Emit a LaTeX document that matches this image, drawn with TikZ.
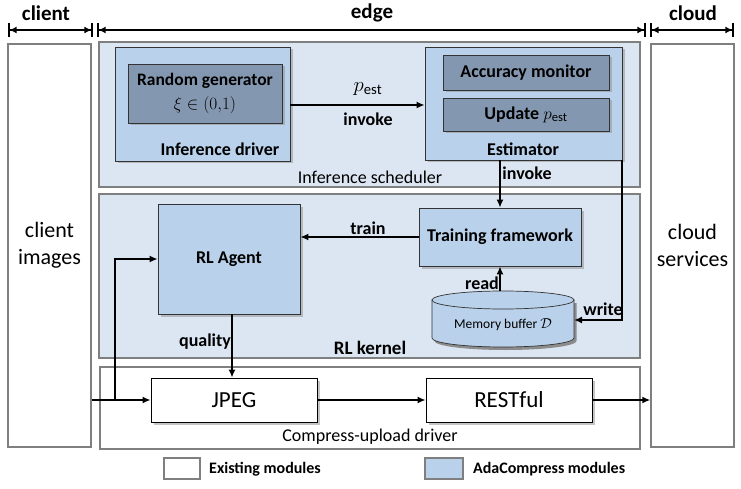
\documentclass[tikz,border=0pt]{standalone}
\usepackage{fontspec}
\setmainfont{Carlito}
\usetikzlibrary{arrows.meta,shadows}
\definecolor{regfill}{HTML}{DCE6F2}
\definecolor{modfill}{HTML}{B9D1EA}
\definecolor{darkfill}{HTML}{8497B0}
\definecolor{regdraw}{HTML}{7F7F7F}
\newcommand{\fsz}[1]{\fontsize{#1}{#1}\selectfont}
\begin{document}
\begin{tikzpicture}[x=1pt,y=-1pt,
  region/.style={draw=regdraw,line width=1.3pt,fill=regfill,inner sep=0},
  modbox/.style={draw=black!80,line width=0.7pt,fill=modfill,inner sep=0,drop shadow={shadow xshift=2.5pt,shadow yshift=-2.5pt,fill=black!45}},
  darkbox/.style={draw=black!80,line width=0.7pt,fill=darkfill,inner sep=0,drop shadow={shadow xshift=2.5pt,shadow yshift=-2.5pt,fill=black!45},font=\fsz{18}\bfseries},
  plainbox/.style={draw=black,line width=0.8pt,fill=white,inner sep=0,drop shadow={shadow xshift=2.5pt,shadow yshift=-2.5pt,fill=black!45},font=\fsz{23}},
  colbox/.style={draw=regdraw,line width=1.3pt,fill=white,inner sep=0},
  arr/.style={line width=1.6pt,-{Latex[length=8pt,width=7pt]}},
  lbl/.style={font=\fsz{18}\bfseries,inner sep=0},
  span/.style={line width=1.6pt,{Bar[width=14pt]Latex[length=7pt,width=7pt]}-{Latex[length=7pt,width=7pt]Bar[width=14pt]}}
]
\useasboundingbox (0,0) rectangle (741,489);
% top spans
\coordinate (c1) at (8,30); \coordinate (c2) at (93,30);
\coordinate (e1) at (97,30); \coordinate (e2) at (646,30);
\coordinate (d1) at (650,30); \coordinate (d2) at (734,30);
\draw[span] (c1) -- (c2);
\draw[span] (e1) -- (e2);
\draw[span] (d1) -- (d2);
\node[font=\fsz{21}\bfseries] (tclient) at (46,13) {client};
\node[font=\fsz{21}\bfseries] (tedge) at (372,13) {edge};
\node[font=\fsz{21}\bfseries] (tcloud) at (693,13) {cloud};
% side columns
\node[colbox,minimum width=83,minimum height=403] (client) at (49.5,245.5) {};
\node[font=\fsz{22},align=center] at (client) {client\\[5pt]images};
\node[colbox,minimum width=83,minimum height=403] (cloud) at (692.5,245.5) {};
\node[font=\fsz{22},align=center] at (cloud) {cloud\\[5pt]services};
% inference scheduler
\node[region,minimum width=541,minimum height=145] (sched) at (369.5,114.5) {};
\node[font=\fsz{18},inner sep=0] at (370,177) {Inference scheduler};
\node[modbox,minimum width=175,minimum height=114] (infdrv) at (202.5,104) {};
\node[lbl] at (220,149) {Inference driver};
\node[darkbox,minimum width=154,minimum height=59,align=center,font=\fontsize{17.5}{24}\selectfont\bfseries] (randgen) at (205,93.5) {Random generator\\\mdseries$\xi\in(0{,}1)$};
\node[modbox,minimum width=197,minimum height=113] (estim) at (523.5,103.5) {};
\node[lbl] at (523,149) {Estimator};
\node[darkbox,minimum width=166,minimum height=35] (accmon) at (526,72.5) {Accuracy monitor};
\node[darkbox,minimum width=166,minimum height=33] (update) at (526,114.5) {Update \mdseries$p_{\mathrm{est}}$};
\draw[arr] (infdrv.east |- 0,105) -- (estim.west |- 0,105);
\node[font=\fsz{21},inner sep=0] at (368,89) {$p_{\mathrm{est}}$};
\node[lbl] at (368,119) {invoke};
% RL kernel
\node[region,minimum width=541,minimum height=164] (rlk) at (369.5,276) {};
\node[font=\fsz{19}\bfseries,inner sep=0] at (370,348) {RL kernel};
\node[modbox,minimum width=142,minimum height=110,font=\fsz{18}\bfseries] (agent) at (229,259) {RL Agent};
\node[modbox,minimum width=162,minimum height=58,font=\fsz{18}\bfseries] (train) at (500,237) {Training framework};
% cylinder
\fill[black!45] (434.5,303) -- (434.5,341) arc[start angle=180,end angle=0,x radius=71,y radius=9] -- (576.5,303) -- cycle;
\draw[draw=black!80,line width=0.7pt,fill=modfill] (432,300) -- (432,338) arc[start angle=180,end angle=0,x radius=71,y radius=9] -- (574,300) -- cycle;
\draw[draw=black!80,line width=0.7pt,fill=modfill] (503,300) ellipse[x radius=71,y radius=9];
\node[inner sep=0,minimum width=142,minimum height=56] (mem) at (503,319) {};
\node[font=\fsz{13.5},inner sep=0] at (503,325) {Memory buffer $\mathcal{D}$};
\coordinate (memtop) at (500,291);
% compress-upload driver
\node[colbox,minimum width=540,minimum height=82] (cud) at (370,408) {};
\node[font=\fsz{18},inner sep=0] at (370,437) {Compress-upload driver};
\node[plainbox,minimum width=166,minimum height=44] (jpeg) at (234,400) {JPEG};
\node[plainbox,minimum width=166,minimum height=44] (rest) at (509,400) {RESTful};
% connectors
\draw[arr] (estim.south -| 500,0) -- (train.north -| 500,0);
\node[lbl] at (527,173) {invoke};
\coordinate (wr) at (622,320);
\draw[arr] (622,160) -- (wr) -- (574,320);
\node[lbl] at (603,309) {write};
\draw[arr] (train.west) -- (agent.east |- train.west);
\node[lbl] at (368,228) {train};
\draw[arr] (memtop) -- (train.south -| memtop);
\node[lbl] at (482,283) {read};
\draw[arr] (agent.south -| 232,0) -- (jpeg.north -| 232,0);
\node[lbl] at (205,342) {quality};
\coordinate (br) at (115,400);
\draw[arr] (client.east |- jpeg.west) -- (jpeg.west);
\draw[arr] (br) -- (115,259) -- (agent.west |- 0,259);
\draw[arr] (jpeg.east) -- (rest.west);
\draw[arr] (rest.east) -- (cloud.west |- rest.east);
% legend
\node[draw=regdraw,line width=1.3pt,fill=white,minimum width=36,minimum height=21,inner sep=0] (lg1) at (182,468.5) {};
\node[font=\fsz{16}\bfseries,anchor=west,inner sep=0] at (209,469) {Existing modules};
\node[draw=regdraw,line width=1.3pt,fill=modfill,minimum width=38,minimum height=21,inner sep=0] (lg2) at (444,468.5) {};
\node[font=\fsz{16}\bfseries,anchor=west,inner sep=0] at (473,469) {AdaCompress modules};
\end{tikzpicture}
\end{document}
